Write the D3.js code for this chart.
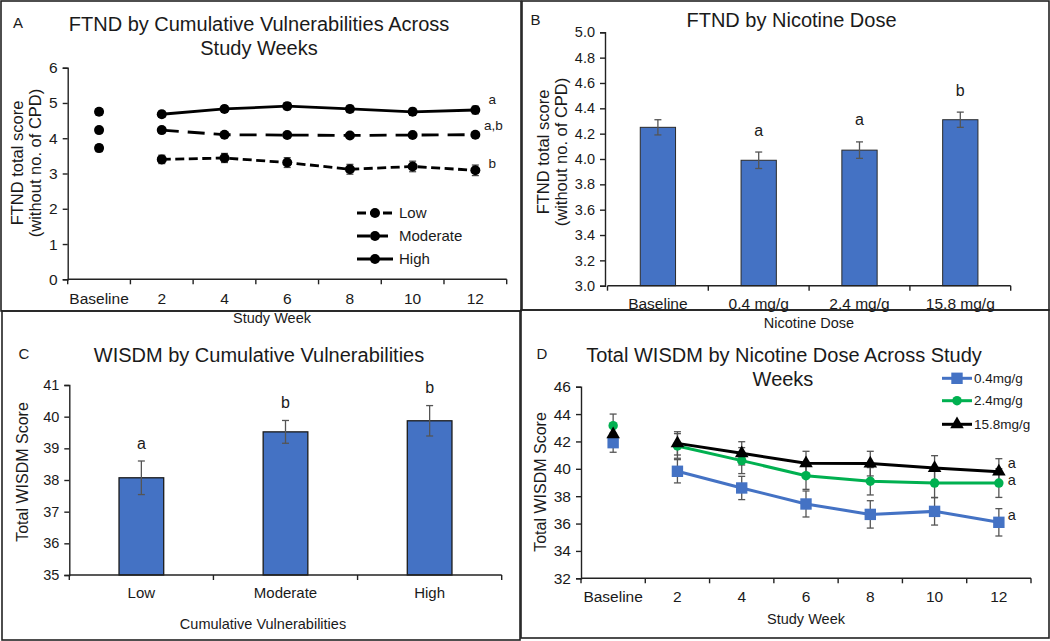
<!DOCTYPE html>
<html><head><meta charset="utf-8">
<script src="https://cdn.jsdelivr.net/npm/d3@7"></script>
<style>
body{margin:0;background:#fff;}
svg{display:block;font-family:"Liberation Sans",Arial,sans-serif;}
</style></head>
<body><svg id="c" width="1050" height="641"></svg>
<script>
// ---------- DATA ----------
// Panel A: FTND by cumulative vulnerabilities across study weeks
const weekCats = ["Baseline","2","4","6","8","10","12"];
const aHigh = [4.75, 4.68, 4.83, 4.91, 4.83, 4.75, 4.80];
const aHighErr = [0.09, 0.09, 0.09, 0.10, 0.10, 0.10, 0.11];
const aModerate = [4.23, 4.23, 4.10, 4.09, 4.08, 4.09, 4.10];
const aModerateErr = [0.07, 0.07, 0.06, 0.06, 0.06, 0.06, 0.06];
const aLow = [3.72, 3.40, 3.44, 3.31, 3.12, 3.20, 3.09];
const aLowErr = [0.10, 0.12, 0.13, 0.14, 0.14, 0.15, 0.15];
const aSigLabels = ["a", "a,b", "b"];
const aSigY = [5.11, 4.36, 3.30];
const aTicks = [0,1,2,3,4,5,6];

// Panel B: FTND by nicotine dose
const doseCats = ["Baseline","0.4 mg/g","2.4 mg/g","15.8 mg/g"];
const bValues = [4.25, 3.99, 4.07, 4.31];
const bErr = [0.06, 0.065, 0.065, 0.06];
const bSig = ["", "a", "a", "b"];
const bTicks = [3.0,3.2,3.4,3.6,3.8,4.0,4.2,4.4,4.6,4.8,5.0];

// Panel C: WISDM by cumulative vulnerabilities
const vulnCats = ["Low","Moderate","High"];
const cValues = [38.07, 39.52, 39.87];
const cErr = [0.53, 0.36, 0.48];
const cSig = ["a","b","b"];
const cTicks = [35,36,37,38,39,40,41];

// Panel D: total WISDM by nicotine dose across study weeks
const d04 = [41.91, 39.82, 38.60, 37.43, 36.67, 36.89, 36.09];
const d04Err = [0.70, 0.85, 0.85, 0.95, 1.00, 1.00, 1.00];
const d24 = [43.15, 41.67, 40.60, 39.50, 39.09, 38.96, 38.96];
const d24Err = [0.85, 0.90, 0.95, 1.00, 1.00, 1.05, 1.05];
const d158 = [42.52, 41.86, 41.13, 40.40, 40.38, 40.06, 39.79];
const d158Err = [0.80, 0.85, 0.85, 0.88, 0.90, 0.90, 0.95];
const dSeriesNames = ["0.4mg/g","2.4mg/g","15.8mg/g"];
const dSig = ["a","a","a"];          // for 15.8, 2.4, 0.4 (top to bottom)
const dSigY = [40.40, 39.18, 36.62];
const dTicks = [32,34,36,38,40,42,44,46];

// ---------- DRAWING ----------
const svg = d3.select("#c");
const FONT = '"Liberation Sans",Arial,sans-serif';
const txt = "#1a1a1a";

const frames = [
  {x0:1,y0:1,x1:521,y1:311},
  {x0:522,y0:1,x1:1049,y1:310},
  {x0:2,y0:311,x1:520,y1:640},
  {x0:521,y0:310,x1:1049,y1:638}
];
frames.forEach(f=>{
  svg.append("rect").attr("x",f.x0).attr("y",f.y0).attr("width",f.x1-f.x0).attr("height",f.y1-f.y0)
    .attr("fill","none").attr("stroke","#222").attr("stroke-width",1.6);
});

function label(x,y,t,size,anchor="middle",rot=false){
  const e = svg.append("text").attr("x",x).attr("y",y).attr("dy","0.35em")
    .attr("text-anchor",anchor).attr("font-size",size).attr("fill",txt).text(t);
  if(rot){ e.attr("transform",`rotate(-90,${x},${y})`); }
  return e;
}

function yAxis(scale, x, ticks, fmt, size){
  const g = svg.append("g").attr("transform",`translate(${x},0)`)
    .call(d3.axisLeft(scale).tickValues(ticks).tickFormat(fmt).tickSize(5).tickPadding(5));
  g.selectAll("path,line").attr("stroke","#222").attr("stroke-width",1.4);
  g.selectAll("text").attr("font-size",size).attr("font-family",FONT).attr("fill",txt);
  return g;
}

function xCatAxis(band, y, size, labelY){
  const g = svg.append("g");
  const r = band.range();
  g.append("line").attr("x1",r[0]).attr("x2",r[1]).attr("y1",y).attr("y2",y).attr("stroke","#222").attr("stroke-width",1.4);
  const bounds = band.domain().map(d=>band(d)).concat([band(band.domain()[band.domain().length-1])+band.bandwidth()]);
  bounds.forEach(b=>g.append("line").attr("x1",b).attr("x2",b).attr("y1",y).attr("y2",y+5).attr("stroke","#222").attr("stroke-width",1.4));
  band.domain().forEach(d=>{
    g.append("text").attr("x",band(d)+band.bandwidth()/2).attr("y",labelY).attr("dy","0.35em")
      .attr("text-anchor","middle").attr("font-size",size).attr("fill",txt).text(d);
  });
}

function errBar(g, x, y0, y1, cap, color, w){
  g.append("line").attr("x1",x).attr("x2",x).attr("y1",y0).attr("y2",y1).attr("stroke",color).attr("stroke-width",w);
  g.append("line").attr("x1",x-cap).attr("x2",x+cap).attr("y1",y0).attr("y2",y0).attr("stroke",color).attr("stroke-width",w);
  g.append("line").attr("x1",x-cap).attr("x2",x+cap).attr("y1",y1).attr("y2",y1).attr("stroke",color).attr("stroke-width",w);
}

// ===== Panel A =====
(function(){
  const x = d3.scaleBand().domain(weekCats).range([67.7,506.7]);
  const cx = d=>x(d)+x.bandwidth()/2;
  const y = d3.scaleLinear().domain([0,6]).range([279.3,67.7]);
  label(18,23,"A",15);
  label(259,23.5,"FTND by Cumulative Vulnerabilities Across",20);
  label(259,48,"Study Weeks",20);
  label(17,163,"FTND total score",16.5,"middle",true);
  label(35,163,"(without no. of CPD)",16.5,"middle",true);
  yAxis(y,67.7,aTicks,d3.format("d"),15.5);
  xCatAxis(x,279.3,15.5,299);
  label(272,318,"Study Week",14.5);

  const series = [
    {v:aLow,e:aLowErr,dash:"9,4.5",name:"Low"},
    {v:aModerate,e:aModerateErr,dash:"17,9",name:"Moderate"},
    {v:aHigh,e:aHighErr,dash:null,name:"High"}
  ];
  const g = svg.append("g");
  series.forEach(s=>{
    const pts = weekCats.map((c,i)=>({c,v:s.v[i],e:s.e[i]}));
    const line = d3.line().x(d=>cx(d.c)).y(d=>y(d.v));
    const p = g.append("path").datum(pts.slice(1)).attr("d",line).attr("fill","none")
      .attr("stroke","#000").attr("stroke-width",2.8);
    if(s.dash) p.attr("stroke-dasharray",s.dash);
    pts.forEach(d=>errBar(g,cx(d.c),y(d.v+d.e),y(d.v-d.e),3.5,"#444",1.2));
    g.selectAll(null).data(pts).enter().append("circle").attr("cx",d=>cx(d.c)).attr("cy",d=>y(d.v)).attr("r",5).attr("fill","#000");
  });
  const lastX = cx(weekCats[weekCats.length-1]);
  aSigLabels.forEach((t,i)=>label(lastX+(t.length>1?18:17),y(aSigY[i]),t,13.5,"middle"));
  const lg = svg.append("g");
  const ly = [213,236,259];
  series.forEach((s,i)=>{
    const l = lg.append("line").attr("x1",357).attr("x2",393).attr("y1",ly[i]).attr("y2",ly[i]).attr("stroke","#000").attr("stroke-width",2.8);
    if(s.dash) l.attr("stroke-dasharray", i===0?"9,4":"13,5");
    lg.append("circle").attr("cx",375).attr("cy",ly[i]).attr("r",5).attr("fill","#000");
    lg.append("text").attr("x",399).attr("y",ly[i]).attr("dy","0.35em").attr("font-size",15).attr("fill",txt).text(s.name);
  });
})();

// ===== Panel B =====
(function(){
  const x = d3.scaleBand().domain(doseCats).range([607.5,1010.7]);
  const y = d3.scaleLinear().domain([3.0,5.0]).range([285.7,32.3]);
  label(535.5,20,"B",15);
  label(791.5,20,"FTND by Nicotine Dose",20);
  label(543,152,"FTND total score",16.5,"middle",true);
  label(561,152,"(without no. of CPD)",16.5,"middle",true);
  yAxis(y,605,bTicks,d3.format(".1f"),14.5);
  const g = svg.append("g");
  const bw = x.bandwidth()*0.35;
  doseCats.forEach((c,i)=>{
    const cxp = x(c)+x.bandwidth()/2;
    g.append("rect").attr("x",cxp-bw/2).attr("y",y(bValues[i])).attr("width",bw).attr("height",y(3.0)-y(bValues[i]))
      .attr("fill","#4472C4").attr("stroke","#2a2a2a").attr("stroke-width",1);
    errBar(g,cxp,y(bValues[i]+bErr[i]),y(bValues[i]-bErr[i]),3.5,"#555",1.3);
    if(bSig[i]) label(cxp,y(bValues[i]+bErr[i])-22,bSig[i],16);
  });
  xCatAxis(x,285.7,15.5,304);
  label(809,323,"Nicotine Dose",14.5);
})();

// ===== Panel C =====
(function(){
  const x = d3.scaleBand().domain(vulnCats).range([69.3,501.7]);
  const y = d3.scaleLinear().domain([35,41]).range([575,385]);
  label(24,354,"C",15);
  label(259,355,"WISDM by Cumulative Vulnerabilities",20);
  label(22,472,"Total WISDM Score",16,"middle",true);
  yAxis(y,69.3,cTicks,d3.format("d"),14.5);
  const g = svg.append("g");
  const bw = x.bandwidth()*0.31;
  vulnCats.forEach((c,i)=>{
    const cxp = x(c)+x.bandwidth()/2;
    g.append("rect").attr("x",cxp-bw/2).attr("y",y(cValues[i])).attr("width",bw).attr("height",y(35)-y(cValues[i]))
      .attr("fill","#4472C4").attr("stroke","#1a1a1a").attr("stroke-width",1.3);
    errBar(g,cxp,y(cValues[i]+cErr[i]),y(cValues[i]-cErr[i]),3.5,"#555",1.3);
    label(cxp,y(cValues[i]+cErr[i])-18,cSig[i],16);
  });
  xCatAxis(x,575,15,593);
  label(263,624,"Cumulative Vulnerabilities",14.5);
})();

// ===== Panel D =====
(function(){
  const x = d3.scaleBand().domain(weekCats).range([581,1031]);
  const cx = d=>x(d)+x.bandwidth()/2;
  const y = d3.scaleLinear().domain([32,46]).range([578.3,386.7]);
  label(542,354,"D",15);
  label(784,355,"Total WISDM by Nicotine Dose Across Study",20);
  label(783,378.5,"Weeks",20);
  label(540,482,"Total WISDM Score",16,"middle",true);
  yAxis(y,581,dTicks,d3.format("d"),15.5);
  xCatAxis(x,578.3,15.5,597);
  label(806,619,"Study Week",14.5);

  const series = [
    {v:d04,e:d04Err,color:"#4472C4",shape:"square",name:dSeriesNames[0]},
    {v:d24,e:d24Err,color:"#00B050",shape:"circle",name:dSeriesNames[1]},
    {v:d158,e:d158Err,color:"#000000",shape:"triangle",name:dSeriesNames[2]}
  ];
  const sym = {square:d3.symbol().type(d3.symbolSquare).size(130),
               circle:d3.symbol().type(d3.symbolCircle).size(70),
               triangle:d3.symbol().type(d3.symbolTriangle).size(80)};
  const g = svg.append("g");
  series.forEach(s=>{
    const pts = weekCats.map((c,i)=>({c,v:s.v[i],e:s.e[i]}));
    pts.forEach(d=>errBar(g,cx(d.c),y(d.v+d.e),y(d.v-d.e),3.5,"#555",1.3));
  });
  series.forEach(s=>{
    const pts = weekCats.map((c,i)=>({c,v:s.v[i],e:s.e[i]}));
    g.append("path").datum(pts.slice(1)).attr("d",d3.line().x(d=>cx(d.c)).y(d=>y(d.v)))
      .attr("fill","none").attr("stroke",s.color).attr("stroke-width",3);
    g.selectAll(null).data(pts).enter().append("path")
      .attr("transform",d=>`translate(${cx(d.c)},${y(d.v)})`)
      .attr("d",sym[s.shape]()).attr("fill",s.color);
  });
  const lastX = cx(weekCats[weekCats.length-1]);
  dSig.forEach((t,k)=>label(lastX+13,y(dSigY[k]),t,14.5,"middle"));
  const ly = [378.3,400.7,424.3];
  series.forEach((s,i)=>{
    svg.append("line").attr("x1",942).attr("x2",972).attr("y1",ly[i]).attr("y2",ly[i]).attr("stroke",s.color).attr("stroke-width",3);
    svg.append("path").attr("transform",`translate(957,${ly[i]})`).attr("d",sym[s.shape]()).attr("fill",s.color);
    svg.append("text").attr("x",974).attr("y",ly[i]).attr("dy","0.35em").attr("font-size",13.5).attr("fill",txt).text(s.name);
  });
})();
</script></body></html>
